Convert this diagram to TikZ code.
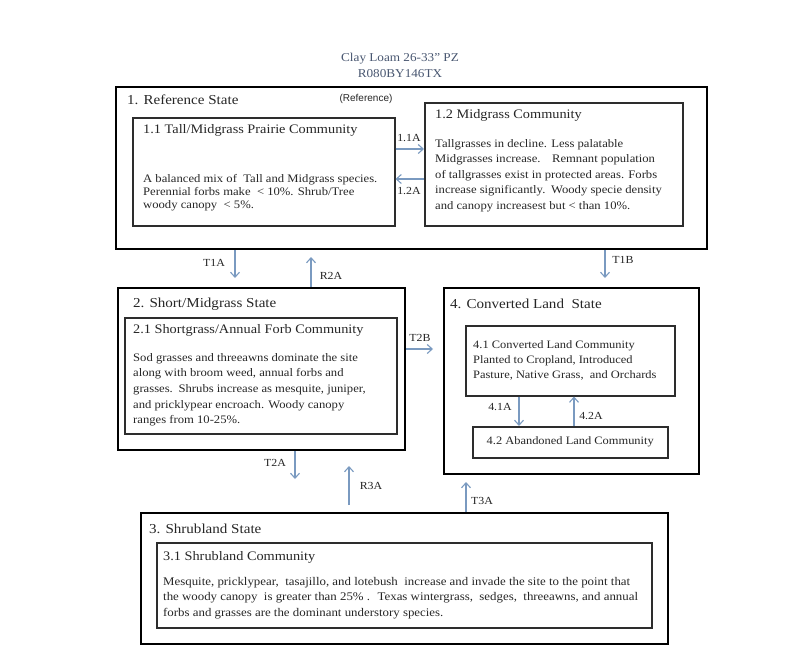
\documentclass[tikz,border=0pt]{standalone}
\usepackage{fontspec}
\setmainfont[FakeStretch=1.1]{Liberation Serif}
\newfontfamily\labelsans{Liberation Sans}
\usetikzlibrary{arrows.meta}
\definecolor{arrowc}{RGB}{122,154,192}
\definecolor{titlec}{RGB}{72,86,112}
\definecolor{textc}{RGB}{38,38,38}
\definecolor{boxgray}{RGB}{45,45,45}
\begin{document}
\begin{tikzpicture}[x=1pt,y=-1pt,
  statebox/.style={draw=black, line width=2.4pt, anchor=north west, inner sep=0pt},
  commbox/.style={draw=boxgray, line width=1.5pt, anchor=north west, inner sep=0pt},
  arr/.style={draw=arrowc, line width=1.1pt, -{Straight Barb[length=5pt,width=9pt]}},
  lbl/.style={font=\fontsize{10.8}{12}\selectfont, text=textc, inner sep=0pt},
  head/.style={font=\fontsize{13.7}{15}\selectfont, anchor=west, inner sep=0pt, text=textc},
  sub/.style={font=\fontsize{13}{14}\selectfont, anchor=west, inner sep=0pt, text=textc},
  body/.style={align=left, anchor=north west, inner sep=0pt, text=textc}
]
\useasboundingbox (0,0) rectangle (800,661);

% title
\node[align=center, text=titlec, font=\fontsize{12}{16}\selectfont, inner sep=0pt] (title) at (400,65) {Clay Loam 26-33” PZ\\R080BY146TX};

% boxes
\node[statebox, minimum width=591pt, minimum height=162pt] (s1) at (115,86) {};
\node[commbox, minimum width=262pt, minimum height=108pt] (c11) at (132,117) {};
\node[commbox, minimum width=258pt, minimum height=123pt] (c12) at (424,102) {};
\node[statebox, minimum width=287pt, minimum height=162pt] (s2) at (117,287) {};
\node[commbox, minimum width=272pt, minimum height=116pt] (c21) at (124,317) {};
\node[statebox, minimum width=255pt, minimum height=186pt] (s4) at (443,287) {};
\node[commbox, minimum width=209pt, minimum height=70pt] (c41) at (465,325) {};
\node[commbox, minimum width=195pt, minimum height=31pt] (c42) at (472,426) {};
\node[statebox, minimum width=527pt, minimum height=131pt] (s3) at (140,512) {};
\node[commbox, minimum width=495pt, minimum height=85pt] (c31) at (156,542) {};

% state 1
\node[head] (h1) at (127,100) {1. Reference State};
\node[inner sep=0pt, text=textc, font=\labelsans\fontsize{10}{11}\selectfont] (refn) at (366,99) {(Reference)};
\node[sub] (h11) at (143,130) {1.1 Tall/Midgrass Prairie Community};
\node[body, font=\fontsize{11.5}{13}\selectfont] (b11) at (143,174) {A balanced mix of \ Tall and Midgrass species.\\Perennial forbs make \ < 10\%. Shrub/Tree\\woody canopy \ < 5\%.};
\node[sub] (h12) at (435,115) {1.2 Midgrass Community};
\node[body, font=\fontsize{11.5}{15.5}\selectfont] (b12) at (435,139) {Tallgrasses in decline. Less palatable\\Midgrasses increase.\quad Remnant population\\of tallgrasses exist in protected areas. Forbs\\increase significantly.\enspace Woody specie density\\and canopy increasest but < than 10\%.};

% state 2
\node[head] (h2) at (133,304) {2. Short/Midgrass State};
\node[sub] (h21) at (133,330) {2.1 Shortgrass/Annual Forb Community};
\node[body, font=\fontsize{11.5}{15.7}\selectfont] (b21) at (133,353) {Sod grasses and threeawns dominate the site\\along with broom weed, annual forbs and\\grasses.\enspace Shrubs increase as mesquite, juniper,\\and pricklypear encroach. Woody canopy\\ranges from 10-25\%.};

% state 4
\node[head] (h4) at (450,304) {4. Converted Land \ State};
\node[body, font=\fontsize{11.3}{15}\selectfont] (b41) at (473,340) {4.1 Converted Land Community\\Planted to Cropland, Introduced\\Pasture, Native Grass, \ and Orchards};
\node[inner sep=0pt, text=textc, font=\fontsize{11.3}{13}\selectfont] (b42) at (c42.center) {4.2 Abandoned Land Community};

% state 3
\node[head] (h3) at (149,529) {3. Shrubland State};
\node[sub] (h31) at (163,557) {3.1 Shrubland Community};
\node[body, font=\fontsize{11.7}{15.5}\selectfont] (b31) at (163,577) {Mesquite, pricklypear, \ tasajillo, and lotebush \ increase and invade the site to the point that\\the woody canopy \ is greater than 25\% . \ Texas wintergrass, \ sedges, \ threeawns, and annual\\forbs and grasses are the dominant understory species.};

% connectors
\coordinate (y11) at (0,149);
\coordinate (y12) at (0,179);
\draw[arr] (c11.east |- y11) -- (c12.west |- y11);
\draw[arr] (c12.west |- y12) -- (c11.east |- y12);
\node[lbl] (l11) at (409,138) {1.1A};
\node[lbl] (l12) at (409,191) {1.2A};

\coordinate (eT1A) at (235,278);
\draw[arr] (s1.south -| eT1A) -- (eT1A);
\node[lbl] (lT1A) at (214,263) {T1A};

\coordinate (eR2A) at (311,257);
\draw[arr] (s2.north -| eR2A) -- (eR2A);
\node[lbl] (lR2A) at (331,276) {R2A};

\coordinate (eT1B) at (605,278);
\draw[arr] (s1.south -| eT1B) -- (eT1B);
\node[lbl] (lT1B) at (623,260) {T1B};

\coordinate (eT2B) at (433,349);
\draw[arr] (s2.east |- eT2B) -- (eT2B);
\node[lbl] (lT2B) at (420,338) {T2B};

\coordinate (eT2A) at (295,479);
\draw[arr] (s2.south -| eT2A) -- (eT2A);
\node[lbl] (lT2A) at (275,463) {T2A};

\coordinate (sR3A) at (349,505);
\coordinate (eR3A) at (349,466);
\draw[arr] (sR3A) -- (eR3A);
\node[lbl] (lR3A) at (371,486) {R3A};

\coordinate (eT3A) at (466,482);
\draw[arr] (s3.north -| eT3A) -- (eT3A);
\node[lbl] (lT3A) at (482,501) {T3A};

\coordinate (x41) at (519,0);
\coordinate (x42) at (574,0);
\draw[arr] (c41.south -| x41) -- (c42.north -| x41);
\draw[arr] (c42.north -| x42) -- (c41.south -| x42);
\node[lbl] (l41) at (500,407) {4.1A};
\node[lbl] (l42) at (591,416) {4.2A};
\end{tikzpicture}
\end{document}
